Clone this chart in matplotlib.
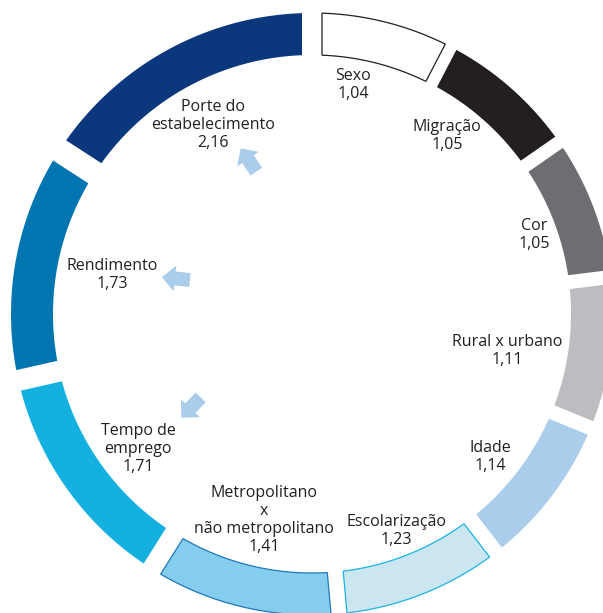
import numpy as np
import matplotlib
matplotlib.use("Agg")
import matplotlib.pyplot as plt
from matplotlib.patches import Polygon, FancyArrow

# ---- data ----
categories = ["Sexo", "Migração", "Cor", "Rural x urbano", "Idade", "Escolarização",
              "Metropolitano\nx\nnão metropolitano", "Tempo de\nemprego", "Rendimento",
              "Porte do\nestabelecimento"]
values = [1.04, 1.05, 1.05, 1.11, 1.14, 1.23, 1.41, 1.71, 1.73, 2.16]
value_labels = ["1,04", "1,05", "1,05", "1,11", "1,14", "1,23", "1,41", "1,71", "1,73", "2,16"]

# ---- style ----
face_colors = ["#ffffff", "#231f20", "#6d6e72", "#bcbdc0", "#abcdec", "#cbe6f1",
               "#84cdee", "#14b1e0", "#0075b0", "#0b377d"]
edge_colors = ["#231f20", None, None, None, None, "#1ab3e5", "#1f78bd", None, None, None]
# gap width (px) at the boundary that precedes each segment (clockwise order)
gaps_before = [20, 12.5, 13.5, 14, 14.5, 15.5, 16, 20, 21, 24]
# label placement (polar, degrees / px)
label_angle = [79.8, 52.8, 19.6, -10.7, -38.8, -68.8, -103.1, -142.2, 169.0, 117.6]
label_radius = [232.6, 223.4, 235.6, 198.5, 228.3, 232.7, 211.5, 220.2, 203.8, 213.4]
# arrows: (position angle, position radius, pointing direction)
arrow_specs = [(112.4, 166.6, 124.0), (165.4, 140.6, 174.0), (217.7, 152.9, 226.5)]
arrow_color = "#abcdec"
text_color = "#231f20"

W, H = 603, 613
cx, cy = 312, 314
R_out, R_in = 301, 259

fig = plt.figure(figsize=(W / 100, H / 100), dpi=100)
ax = fig.add_axes([0, 0, 1, 1])
ax.set_xlim(0, W)
ax.set_ylim(H, 0)
ax.set_aspect("equal")
ax.axis("off")


def pt(ang, r):
    a = np.deg2rad(ang)
    return cx + r * np.cos(a), cy - r * np.sin(a)


total = sum(values)
spans = [v / total * 360 for v in values]
start = 90.0
n = len(values)
for i in range(n):
    s = start - sum(spans[:i])
    e = s - spans[i]
    ds = gaps_before[i] / 2
    de = gaps_before[(i + 1) % n] / 2
    so = s - np.degrees(np.arcsin(ds / R_out))
    eo = e + np.degrees(np.arcsin(de / R_out))
    si = s - np.degrees(np.arcsin(ds / R_in))
    ei = e + np.degrees(np.arcsin(de / R_in))
    outer = [pt(a, R_out) for a in np.linspace(so, eo, 120)]
    inner = [pt(a, R_in) for a in np.linspace(ei, si, 120)]
    ec = edge_colors[i]
    poly = Polygon(outer + inner, closed=True, facecolor=face_colors[i],
                   edgecolor=ec if ec else "none", linewidth=0.9 if ec else 0,
                   joinstyle="miter")
    ax.add_patch(poly)

for i in range(n):
    x, y = pt(label_angle[i], label_radius[i])
    ax.text(x, y, categories[i] + "\n" + value_labels[i], ha="center", va="center",
            multialignment="center", fontsize=11.5, color=text_color,
            family=["Open Sans", "DejaVu Sans"], linespacing=1.15)

L, sw, hw, hl = 28, 14, 26, 13
for pa, pr, d in arrow_specs:
    mx, my = pt(pa, pr)
    dr = np.deg2rad(d)
    ux, uy = np.cos(dr), -np.sin(dr)
    tx, ty = mx - ux * L / 2, my - uy * L / 2
    ax.add_patch(FancyArrow(tx, ty, ux * L, uy * L, width=sw, head_width=hw,
                            head_length=hl, length_includes_head=True,
                            color=arrow_color, linewidth=0))

fig.savefig("out.png", dpi=100)
